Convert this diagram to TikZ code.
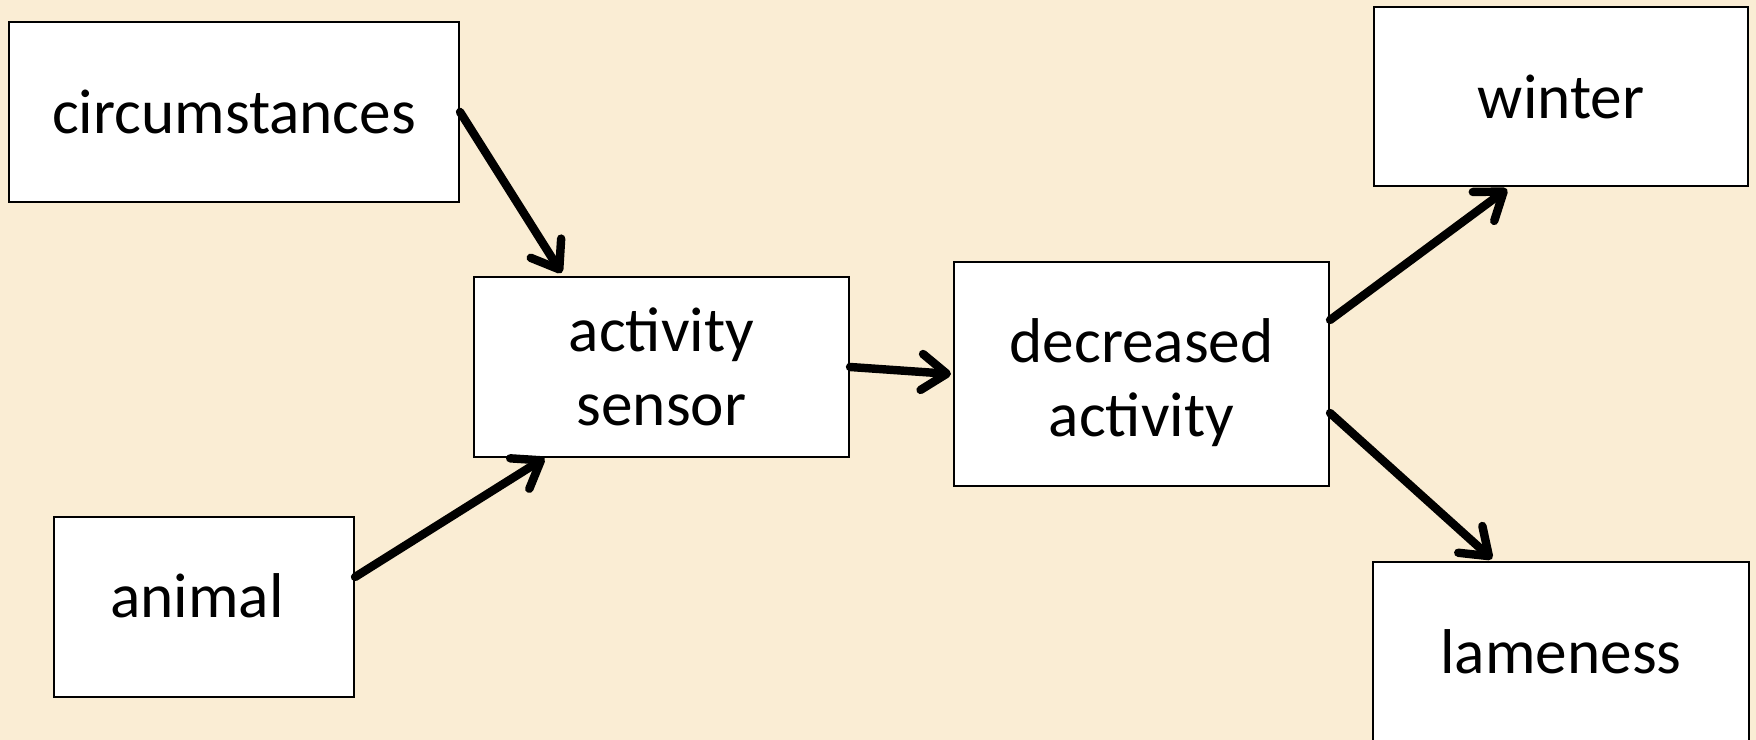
\documentclass[tikz,border=0pt]{standalone}
\usepackage{fontspec}
\setmainfont{Carlito}
\usetikzlibrary{arrows.meta, positioning, calc}
\definecolor{parchment}{RGB}{250,237,212}

\begin{document}
\begin{tikzpicture}[
    box/.style={draw, line width=0.6pt, fill=white, inner sep=0pt,
                minimum height=1.8cm, align=center,
                font=\fontsize{18}{21}\selectfont},
    arr/.style={-{Straight Barb[length=0.25cm, width=0.36cm, round]},
                line width=2.4pt, line cap=round},
  ]
    \fill[parchment] (0,0) rectangle (17.56,-7.40);
    \useasboundingbox (0,0) rectangle (17.56,-7.40);

    \node[box, minimum width=4.5cm] (circ) at (2.34,-1.12) {circumstances};
    \node[box, minimum width=3.75cm] (sensor) at (6.615,-3.67) {activity\\sensor};
    \node[box, minimum width=3.0cm, text depth=0.22cm] (animal) at (2.04,-6.07)
      {animal\hspace*{0.14cm}};
    \node[box, minimum width=3.75cm, minimum height=2.24cm] (decr) at (11.415,-3.74)
      {\rule{0pt}{0.62cm}decreased\\activity};
    \node[box, minimum width=3.74cm, minimum height=1.79cm] (winter) at (15.61,-0.965) {winter};
    \node[box, minimum width=3.76cm] (lame) at (15.61,-6.52) {lameness};

    \draw[arr] (circ.east) -- ([xshift=-1.0cm, yshift=0.03cm]sensor.north);
    \draw[arr] ([yshift=0.3cm]animal.east) -- ([xshift=-1.17cm]sensor.south);
    \draw[arr] (sensor.east) -- ([xshift=-0.02cm]decr.west);
    \draw[arr] ([yshift=0.54cm]decr.east) -- ([xshift=-0.54cm, yshift=-0.02cm]winter.south);
    \draw[arr] ([yshift=-0.39cm]decr.east) -- ([xshift=-0.69cm, yshift=0.02cm]lame.north);
  \end{tikzpicture}
\end{document}
